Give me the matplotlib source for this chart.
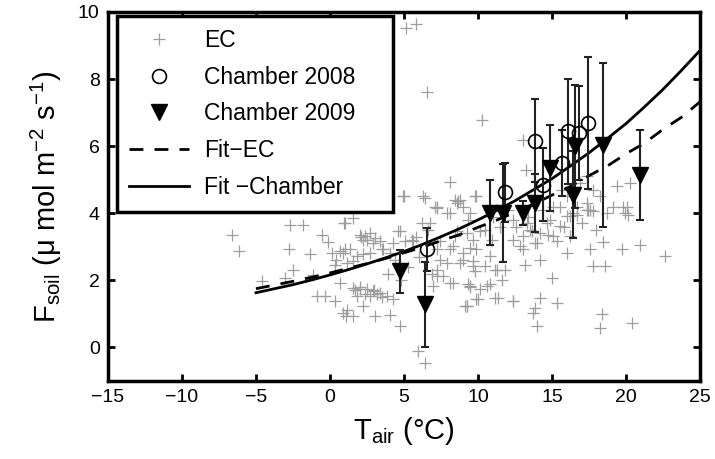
import matplotlib.pyplot as plt

plt.rcParams['font.family'] = ['Liberation Sans', 'DejaVu Sans']

# EC scatter (T_air, F_soil)
ec_t = [5.14, 5.81, 6.53, 10.24, 13.06, 13.24, 8.1, 5.0, 6.42, 7.2, 8.45, 8.8, 9.86,
        -6.64, -6.13, -2.7, -1.8, -0.57, -0.11, -2.75, -1.35, 0.11, 0.44, 0.68, 1.0,
        0.34, -2.48, -1.13, -4.6, -3.04, -0.9, -0.34, 0.34, 0.9, 1.1, 0.68, 0.95,
        1.01, 1.57, 2.03, 2.36, 2.7, 3.04, 3.38, 2.25, 0.9, 1.35, 1.8, 2.25, 2.7, 1.12, 1.57,
        4.61, 5.51, 5.07, 3.6, 4.05, 7.43, 8.1, 7.2, 7.66, 8.33, 6.98, 9.35,
        1.57, 2.03, 2.48, 2.93, 3.38, 3.83, 4.28, 1.8, 2.7,
        1.12, 1.57, 2.25, 3.04, 4.05, 4.73, 5.97, 6.42, 7.2, 7.88, 8.55, 6.19, 7.43, 8.45, 9.12,
        9.23, 9.68, 9.46, 9.0, 9.68, 10.47, 10.93, 10.47, 9.8, 11.15, 11.82, 11.6,
        9.46, 10.14, 10.81, 9.23, 10.02, 11.37, 12.39,
        12.39, 13.06, 13.18, 13.85, 14.19, 14.75, 15.31, 15.99, 14.98, 14.19, 15.31, 13.85, 13.73, 13.96,
        15.54, 16.22, 16.67, 17.45, 9.0, 9.46, 12.39, 13.29, 13.62,
        17.34, 17.79, 18.69, 19.8, 20.16, 17.57, 18.42, 19.7, 20.95, 22.64, 17.79, 18.58,
        18.35, 18.24, 20.38,
        16.89, 17.34, 17.79, 18.24, 17.57, 19.15, 19.37, 20.27, 20.05, 19.93,
        15.65, 15.99, 16.67, 17.34, 15.99, 15.09, 14.64, 15.54, 14.19, 13.51, 13.06, 13.96, 12.84, 15.09, 16.22,
        4.95, 6.3, 7.09, 8.67, 9.8, 8.1, 6.76, 9.35, 10.14, 8.55, 4.73, 5.63, 4.28, 3.49, 7.2, 8.33,
        9.0, 9.9, 7.88, 8.78, 9.68, 10.81, 11.26, 7.2, 8.1, 9.46, 10.58, 11.15, 12.39, 9.23, 9.9,
        2.1, 2.5, 2.9, 3.2, 1.7, 2.0, 2.4, 3.0, 3.5, 11.0, 11.5, 12.0, 12.6, 13.4, 14.4, 14.9,
        15.8, 16.4, 17.0, 18.0, 4.4, 5.3, 6.0, 6.9, 5.8, 6.6, 3.9, 4.8]
ec_f = [9.51, 9.64, 7.6, 6.77, 6.17, 5.3, 4.92, 4.5, 4.45, 4.2, 4.4, 4.4, 4.5,
        3.36, 2.87, 3.66, 3.66, 3.36, 3.13, 2.92, 2.77, 2.82, 2.62, 2.87, 2.92,
        2.47, 2.32, 2.17, 1.97, 2.07, 1.53, 1.53, 1.38, 1.03, 0.95, 1.93, 3.71,
        3.71, 3.86, 3.36, 3.31, 3.41, 3.27, 3.17, 3.21, 2.82, 2.92, 2.72, 2.77, 2.82, 2.52, 2.57,
        3.46, 3.21, 3.17, 2.92, 2.82, 2.62, 2.92, 2.32, 2.12, 1.93, 1.83, 1.88,
        1.78, 1.73, 1.73, 1.68, 1.63, 1.53, 1.43, 1.53, 1.53,
        1.13, 0.93, 1.23, 0.93, 0.98, 0.63, -0.11, -0.45, 4.16, 4.01, 4.3, 3.71, 3.17, 3.31, 1.23,
        3.41, 3.21, 2.97, 2.62, 2.57, 3.51, 3.21, 2.42, 2.27, 2.32, 2.32, 2.02,
        1.81, 1.73, 1.88, 1.23, 1.43, 1.48, 1.38,
        3.21, 2.92, 2.47, 3.12, 2.62, 3.36, 3.17, 2.82, 2.07, 1.48, 1.33, 1.18, 1.03, 0.63,
        4.2, 3.91, 3.96, 4.11, 4.2, 4.0, 3.81, 3.71, 3.46,
        4.11, 4.06, 4.01, 4.2, 3.96, 2.94, 3.13, 2.94, 3.04, 2.72, 2.42, 2.44,
        1.01, 0.59, 0.74,
        4.9, 5.1, 4.7, 4.5, 4.1, 4.2, 4.8, 4.9, 4.2, 4.0,
        4.7, 4.5, 4.2, 4.3, 3.91, 4.2, 3.71, 3.61, 3.41, 3.51, 3.31, 3.12, 3.02, 3.31, 3.31,
        4.5, 4.5, 4.2, 4.35, 4.5, 4.0, 3.71, 3.81, 3.46, 3.46, 3.46, 3.17, 3.12, 2.92, 2.92, 3.02,
        2.82, 2.92, 2.52, 2.52, 2.42, 2.72, 2.32, 2.12, 1.93, 1.83, 1.83, 1.48, 1.38, 1.23, 1.43,
        3.3, 3.2, 3.1, 1.6, 1.7, 1.8, 1.6, 1.7, 1.5, 3.9, 3.6, 4.1, 3.6, 3.9, 4.1, 3.8,
        3.6, 4.0, 3.7, 3.5, 2.6, 2.4, 2.7, 2.2, 3.3, 3.5, 2.2, 2.0]

# Chamber 2008
c08_t = [6.58, 11.82, 13.85, 14.41, 15.65, 16.06, 16.85, 17.45]
c08_f = [2.92, 4.62, 6.16, 4.85, 5.5, 6.44, 6.39, 6.69]
c08_err = [0.64, 0.89, 1.24, 1.09, 0.99, 1.56, 1.39, 1.96]

# Chamber 2009
c09_t = [4.73, 6.42, 10.81, 11.71, 13.06, 13.85, 14.86, 16.55, 16.44, 18.47, 20.95]
c09_f = [2.27, 1.28, 4.01, 4.01, 4.01, 4.3, 5.35, 5.99, 4.55, 6.04, 5.15]
c09_err = [0.64, 1.26, 0.97, 1.46, 0.35, 0.87, 1.29, 1.84, 1.29, 2.44, 1.34]

# fit curves
fit_t = [-5, -3.75, -2.5, -1.25, 0, 1.25, 2.5, 3.75, 5, 6.25, 7.5, 8.75, 10,
         11.25, 12.5, 13.75, 15, 16.25, 17.5, 18.75, 20, 21.25, 22.5, 23.75, 25]
fit_ec = [1.75, 1.86, 1.97, 2.09, 2.22, 2.36, 2.50, 2.65, 2.82, 2.99, 3.18, 3.36, 3.58,
          3.79, 4.03, 4.27, 4.54, 4.80, 5.12, 5.41, 5.77, 6.09, 6.50, 6.86, 7.32]
fit_ch = [1.63, 1.75, 1.87, 2.01, 2.16, 2.32, 2.49, 2.67, 2.86, 3.07, 3.30, 3.54, 3.80,
          4.08, 4.37, 4.70, 5.03, 5.41, 5.80, 6.23, 6.67, 7.17, 7.69, 8.26, 8.85]

fig = plt.figure(figsize=(7.15, 4.59), dpi=100)
ax = fig.add_axes([0.151, 0.170, 0.828, 0.804])

ax.plot(ec_t, ec_f, '+', color='0.62', ms=8, mew=0.9, label='EC', zorder=1)
ax.plot(fit_t, fit_ec, '--', color='k', lw=2, dashes=(5, 4), label='Fit\u2212EC', zorder=3)
ax.plot(fit_t, fit_ch, '-', color='k', lw=2, label='Fit \u2212Chamber', zorder=3)

ax.errorbar(c08_t, c08_f, yerr=c08_err, fmt='none', ecolor='#222222', elinewidth=1.5,
            capsize=3, capthick=1.5, zorder=4)
ax.errorbar(c09_t, c09_f, yerr=c09_err, fmt='none', ecolor='#222222', elinewidth=1.5,
            capsize=3, capthick=1.5, zorder=4)
ax.plot(c08_t, c08_f, 'o', mfc='none', mec='k', ms=10, mew=1.2, label='Chamber 2008', zorder=5)
ax.plot(c09_t, c09_f, 'v', color='k', ms=11, label='Chamber 2009', zorder=5)

ax.set_xlim(-15, 25)
ax.set_ylim(-1, 10)
ax.set_xticks(range(-15, 30, 5))
ax.set_yticks(range(0, 12, 2))
ax.tick_params(direction='in', top=True, right=True, length=5, width=2, labelsize=14, pad=6)
for s in ax.spines.values():
    s.set_linewidth(2.5)

ax.set_xlabel('T$_{\\mathregular{air}}$ (\u00b0C)', fontsize=21, labelpad=6)
ax.set_ylabel(r'F$_{\mathregular{soil}}$ ($\mathregular{\mu}$ mol m$^{\mathregular{-2}}$ s$^{\mathregular{-1}}$)',
              fontsize=21, labelpad=10)

h, l = ax.get_legend_handles_labels()
order = [0, 3, 4, 1, 2]
leg = ax.legend([h[i] for i in order], [l[i] for i in order], loc='upper left',
                bbox_to_anchor=(0.015, 0.0, 0.466, 0.988), mode='expand', borderaxespad=0,
                fontsize=16.5, handlelength=2.6, labelspacing=0.6,
                fancybox=False, framealpha=1, edgecolor='k', borderpad=0.55, handletextpad=0.65)
leg.get_frame().set_linewidth(2.5)

fig.savefig('out.png', dpi=100)
